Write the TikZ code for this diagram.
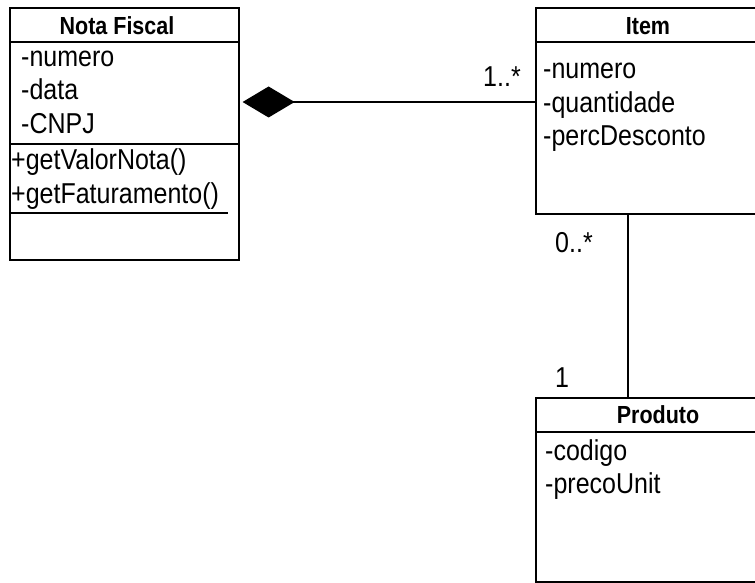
\documentclass[tikz,border=0pt]{standalone}
\usepackage{fontspec}
\setmainfont{Liberation Sans}
\usetikzlibrary{arrows.meta,calc}
\newcommand{\vsc}[1]{\scalebox{1}[1.15]{#1}}
\begin{document}
\begin{tikzpicture}[x=1pt,y=-1pt,
  umlbox/.style={draw, line width=1.6pt, anchor=north west, inner sep=0pt, rectangle},
  sepline/.style={line width=1.6pt},
  conn/.style={line width=1.6pt},
  attr/.style={anchor=base west, inner sep=0pt, font=\fontsize{25}{30}\selectfont},
  umltitle/.style={anchor=base, inner sep=0pt, font=\bfseries\fontsize{21.5}{26}\selectfont},
  mult/.style={anchor=base west, inner sep=0pt, font=\fontsize{25}{30}\selectfont}]
\clip (0,0) rectangle (755,583);
\fill[white] (0,0) rectangle (755,583);
% boxes
\node[umlbox, minimum width=229pt, minimum height=252pt] (nf) at (9,7) {};
\node[umlbox, minimum width=240pt, minimum height=206pt] (item) at (535,7) {};
\node[umlbox, minimum width=240pt, minimum height=184pt] (prod) at (535,397) {};
% compartment lines
\draw[sepline] ($(nf.north west)+(0,35)$) -- ($(nf.north east)+(0,35)$);
\draw[sepline] ($(nf.north west)+(0,137)$) -- ($(nf.north east)+(0,137)$);
\draw[sepline] ($(nf.north west)+(1,206)$) -- ($(nf.north west)+(219,206)$);
\draw[sepline] ($(item.north west)+(0,35)$) -- ($(item.north east)+(0,35)$);
\draw[sepline] ($(prod.north west)+(0,35)$) -- ($(prod.north east)+(0,35)$);
% texts
\node[umltitle] (nft) at (117,35) {\vsc{Nota Fiscal}};
\node[attr] (nf1) at (21,67) {\vsc{-numero}};
\node[attr] (nf2) at (21,100) {\vsc{-data}};
\node[attr] (nf3) at (21,134) {\vsc{-CNPJ}};
\node[attr] (nf4) at (11,169) {\vsc{+getValorNota()}};
\node[attr] (nf5) at (11,203) {\vsc{+getFaturamento()}};
\node[umltitle] (itt) at (648,35) {\vsc{Item}};
\node[attr] (it1) at (543,79) {\vsc{-numero}};
\node[attr] (it2) at (543,113) {\vsc{-quantidade}};
\node[attr] (it3) at (543,146) {\vsc{-percDesconto}};
\node[umltitle] (prt) at (658,423) {\vsc{Produto}};
\node[attr] (pr1) at (545,460) {\vsc{-codigo}};
\node[attr] (pr2) at (545,493) {\vsc{-precoUnit}};
% multiplicities
\node[mult] (m1) at (483,87) {\vsc{1..*}};
\node[mult] (m2) at (555,252) {\vsc{0..*}};
\node[mult] (m3) at (555,387) {\vsc{1}};
% connectors
\coordinate (ay) at (0,102);
\coordinate (vx) at (628,0);
\draw[conn, {Diamond[length=52pt,width=31pt]}-] ($(nf.east |- ay)+(3,0)$) -- (item.west |- ay);
\draw[conn] (item.south -| vx) -- (prod.north -| vx);
\end{tikzpicture}
\end{document}
